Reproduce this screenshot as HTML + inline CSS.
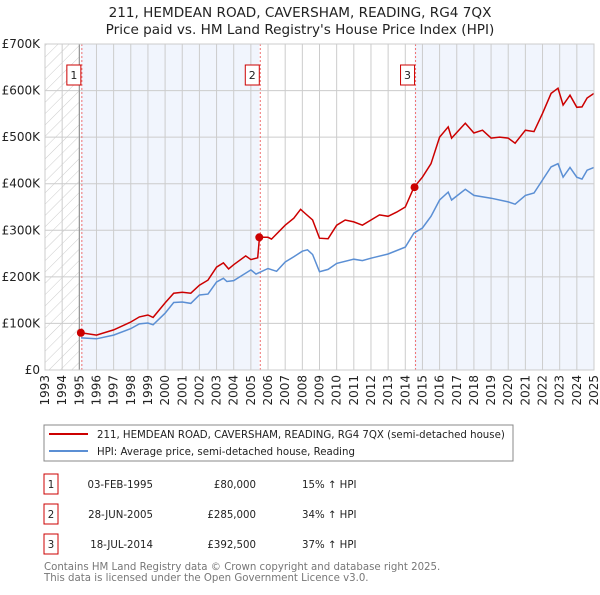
<!DOCTYPE html>
<html><head><meta charset="utf-8"><style>
body{margin:0;background:#fff;font-family:"Liberation Sans","DejaVu Sans",sans-serif;}
svg text{font-family:"DejaVu Sans","Liberation Sans",sans-serif;}
</style></head><body>
<svg id="c" width="600" height="590" xmlns="http://www.w3.org/2000/svg">
<defs><pattern id="h" width="8" height="8" patternUnits="userSpaceOnUse" patternTransform="rotate(45)"><line x1="0" y1="0" x2="0" y2="8" stroke="#ccc" stroke-width="1"/></pattern></defs>
<text x="300" y="17" text-anchor="middle" font-size="13.6" fill="#222">211, HEMDEAN ROAD, CAVERSHAM, READING, RG4 7QX</text>
<text x="300" y="34" text-anchor="middle" font-size="13.6" fill="#222">Price paid vs. HM Land Registry's House Price Index (HPI)</text>
<g id="plot"></g>
<rect x="44" y="425" width="469" height="36" fill="#fff" stroke="#888"/>
<line x1="49" y1="434" x2="88" y2="434" stroke="#cc0000" stroke-width="2"/>
<text x="97" y="438" font-size="10.2" fill="#222">211, HEMDEAN ROAD, CAVERSHAM, READING, RG4 7QX (semi-detached house)</text>
<line x1="49" y1="451" x2="88" y2="451" stroke="#5b8fd4" stroke-width="2"/>
<text x="97" y="455" font-size="10.2" fill="#222">HPI: Average price, semi-detached house, Reading</text>
<g id="tbl" font-size="10.2" fill="#222"></g>
<text x="44" y="570" font-size="10.2" fill="#777">Contains HM Land Registry data © Crown copyright and database right 2025.</text>
<text x="44" y="581" font-size="10.2" fill="#777">This data is licensed under the Open Government Licence v3.0.</text>
</svg>
<script>
const hpiYears=[1995.1,1996,1997,1998,1998.5,1999,1999.3,2000,2000.5,2001,2001.5,2002,2002.5,2003,2003.4,2003.6,2004,2005,2005.3,2006,2006.5,2007,2007.5,2008,2008.3,2008.6,2009,2009.5,2010,2011,2011.5,2012,2013,2014,2014.5,2015,2015.5,2016,2016.5,2016.7,2017.5,2018,2019,2020,2020.4,2021,2021.5,2022,2022.5,2022.9,2023.2,2023.6,2024,2024.3,2024.6,2025];
const hpiValues=[69,67,75,89,99,101,97,122,145,146,143,161,163,189,197,190,192,215,206,218,212,232,243,255,258,248,211,216,229,238,235,240,249,264,294,305,330,365,382,365,388,375,369,361,356,375,380,408,436,443,414,435,414,410,429,435];
const propYears=[1995.1,1996,1997,1998,1998.5,1999,1999.3,2000,2000.5,2001,2001.5,2002,2002.5,2003,2003.4,2003.7,2004,2004.7,2005,2005.4,2005.5,2006,2006.2,2007,2007.5,2007.9,2008.2,2008.6,2009,2009.5,2010,2010.5,2011,2011.5,2012,2012.5,2013,2013.5,2014,2014.5,2015,2015.5,2016,2016.5,2016.7,2017.5,2018,2018.5,2019,2019.5,2020,2020.4,2021,2021.5,2022,2022.5,2022.9,2023.2,2023.6,2024,2024.3,2024.6,2025];
const propValues=[80,75,86,103,114,118,113,144,165,167,165,182,193,221,230,217,226,245,237,241,285,285,281,311,326,345,335,322,283,282,311,322,318,311,322,333,330,339,350,392,414,443,500,522,498,530,509,515,498,500,498,487,515,512,551,594,605,569,590,564,565,584,594];
const saleYears=[1995.09,2005.49,2014.54];
const saleValues=[80,285,392.5];
const saleDates=["03-FEB-1995","28-JUN-2005","18-JUL-2014"];
const salePrices=["£80,000","£285,000","£392,500"];
const saleDiffs=["15% ↑ HPI","34% ↑ HPI","37% ↑ HPI"];
const yTicks=[0,100,200,300,400,500,600,700];
const yTickLabels=["£0","£100K","£200K","£300K","£400K","£500K","£600K","£700K"];
const xTicks=[1993,1994,1995,1996,1997,1998,1999,2000,2001,2002,2003,2004,2005,2006,2007,2008,2009,2010,2011,2012,2013,2014,2015,2016,2017,2018,2019,2020,2021,2022,2023,2024,2025];

const NS="http://www.w3.org/2000/svg";
const X0=45,X1=594,Y0=370,Y1=44;
const x=t=>X0+(t-1993)*(X1-X0)/32;
const y=v=>Y0-v*(Y0-Y1)/700;
const g=document.getElementById('plot');
function mk(tag,at,parent){const e=document.createElementNS(NS,tag);for(const k in at)e.setAttribute(k,at[k]);(parent||g).appendChild(e);return e;}
let e;
e=mk('rect',{x:x(1995.09),y:Y1,width:x(2005.49)-x(1995.09),height:Y0-Y1,fill:'#eef3fc',opacity:0.8});


e=mk('rect',{x:x(2014.54),y:Y1,width:X1-x(2014.54),height:Y0-Y1,fill:'#eef3fc',opacity:0.8});


e=mk('rect',{x:X0,y:Y1,width:x(1995)-X0,height:Y0-Y1,fill:'url(#h)'});


xTicks.forEach((t,i)=>{
 e=mk('line',{x1:x(t),x2:x(t),y1:Y1,y2:Y0,stroke:'#ccc','stroke-width':1});
 
 
 e=mk('text',{x:0,y:0,'font-size':12,fill:'#222','text-anchor':'end',transform:`translate(${x(t)+4},${Y0+5}) rotate(-90)`});
 e.textContent=t;
 
 
});
yTicks.forEach((v,i)=>{
 e=mk('line',{x1:X0,x2:X1,y1:y(v),y2:y(v),stroke:'#ccc','stroke-width':1});
 
 
 e=mk('text',{x:X0-5,y:y(v)+4,'font-size':12,fill:'#222','text-anchor':'end'});
 e.textContent=yTickLabels[i];
 
 
});
e=mk('line',{x1:x(1995),x2:x(1995),y1:Y1,y2:Y0,stroke:'#888'});


saleYears.forEach((t,i)=>{
 e=mk('line',{x1:x(t)+1,x2:x(t)+1,y1:Y1,y2:Y0,stroke:'#f07070','stroke-dasharray':'2,2'});
 
 
});
const pts=(xs,vs)=>xs.map((t,i)=>x(t).toFixed(1)+','+y(vs[i]).toFixed(1)).join(' ');
e=mk('polyline',{points:pts(hpiYears,hpiValues),fill:'none',stroke:'#5b8fd4','stroke-width':1.5});


e=mk('polyline',{points:pts(propYears,propValues),fill:'none',stroke:'#cc0000','stroke-width':1.5});


saleYears.forEach((t,i)=>{
 e=mk('circle',{cx:x(t),cy:y(saleValues[i]),r:4,fill:'#cc0000'});
 
 
 e=mk('rect',{x:x(t)-14,y:65,width:14,height:20,fill:'#fff',stroke:'#cc0000'});
 
 
 e=mk('text',{x:x(t)-7,y:79,'font-size':11,fill:'#222','text-anchor':'middle'});
 e.textContent=i+1;
 
 
});
e=mk('rect',{x:X0,y:Y1,width:X1-X0,height:Y0-Y1,fill:'none',stroke:'#ccc'});


const tb=document.getElementById('tbl');
saleYears.forEach((t,i)=>{
 const cy=483+i*30;
 e=mk('rect',{x:44,y:cy-9,width:14,height:20,fill:'#fff',stroke:'#cc0000'},tb);
 
 
 e=mk('text',{x:51,y:cy+5,'text-anchor':'middle'},tb);e.textContent=i+1;
 
 
 e=mk('text',{x:153,y:cy+5,'text-anchor':'end'},tb);e.textContent=saleDates[i];
 
 
 e=mk('text',{x:256,y:cy+5,'text-anchor':'end'},tb);e.textContent=salePrices[i];
 
 
 e=mk('text',{x:302,y:cy+5},tb);e.textContent=saleDiffs[i];
 
 
});
</script>
</body></html>
